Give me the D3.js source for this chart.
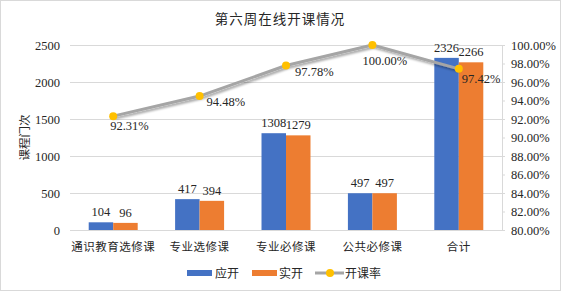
<!DOCTYPE html>
<html>
<head>
<meta charset="utf-8">
<script src="https://cdn.jsdelivr.net/npm/d3@7"></script>
<style>
  body { margin: 0; background: #fff; }
  svg { display: block; }
</style>
</head>
<body>
<svg id="chart" width="564" height="292"></svg>
<script>
// chart data
const categories = ["通识教育选修课", "专业选修课", "专业必修课", "公共必修课", "合计"];
const planned = [104, 417, 1308, 497, 2326];   // 应开
const actual = [96, 394, 1279, 497, 2266];     // 实开
const rate = [92.31, 94.48, 97.78, 100.00, 97.42]; // 开课率 %
const leftTicks = [0, 500, 1000, 1500, 2000, 2500];
const rightTicks = [80, 82, 84, 86, 88, 90, 92, 94, 96, 98, 100];

const svg = d3.select("#chart");
const cnFont = "'Noto Sans CJK SC', sans-serif";
const numFont = "'Liberation Serif', 'Times New Roman', serif";

const pLeft = 70, pRight = 502, pTop = 45, pBottom = 230;

// outer border
svg.append("rect")
  .attr("x", 0.5).attr("y", 0.5)
  .attr("width", 560).attr("height", 290)
  .attr("fill", "#fff")
  .attr("stroke", "#D9D9D9");

// shadow for the line
const defs = svg.append("defs");
const f = defs.append("filter").attr("id", "shadow")
  .attr("x", "-10%").attr("y", "-30%").attr("width", "120%").attr("height", "160%");
f.append("feDropShadow")
  .attr("dx", 1.5).attr("dy", 2).attr("stdDeviation", 1.2)
  .attr("flood-color", "#000").attr("flood-opacity", 0.35);

let x0 = d3.scaleBand()
  .domain(categories)
  .range([pLeft, pRight])
  .paddingInner(0.433)
  .paddingOuter(0.2165);

let x1 = d3.scaleBand()
  .domain(["应开", "实开"])
  .range([0, x0.bandwidth()]);

let y = d3.scaleLinear().domain([0, 2500]).range([pBottom, pTop]);
let yr = d3.scaleLinear().domain([80, 100]).range([pBottom, pTop]);

// gridlines
svg.append("g")
  .selectAll("line")
  .data(leftTicks)
  .enter()
  .append("line")
  .attr("x1", pLeft).attr("x2", pRight)
  .attr("y1", d => y(d)).attr("y2", d => y(d))
  .attr("stroke", "#D9D9D9")
  .attr("stroke-width", 1)
  .attr("shape-rendering", "crispEdges");

// left axis labels
let axL = svg.append("g")
  .attr("transform", "translate(" + pLeft + ",0)")
  .call(d3.axisLeft(y).tickValues(leftTicks).tickSize(0).tickPadding(10)
    .tickFormat(d3.format("d")));
axL.select(".domain").remove();
axL.selectAll("text")
  .style("font-family", numFont)
  .style("font-size", "12.5px")
  .style("fill", "#262626");

// right axis
let axR = svg.append("g")
  .attr("transform", "translate(" + pRight + ",0)")
  .call(d3.axisRight(yr).tickValues(rightTicks).tickSize(3).tickPadding(6)
    .tickFormat(d => d.toFixed(2) + "%"));
axR.select(".domain").attr("stroke", "#D9D9D9").attr("d", "M0.5," + pTop + "V" + pBottom);
axR.selectAll("line").attr("stroke", "#D9D9D9");
axR.selectAll("text")
  .style("font-family", numFont)
  .style("font-size", "12.5px")
  .style("fill", "#262626");

// category labels
svg.append("g")
  .selectAll("text")
  .data(categories)
  .enter()
  .append("text")
  .attr("x", d => x0(d) + x0.bandwidth() / 2)
  .attr("y", 251)
  .attr("text-anchor", "middle")
  .style("font-family", cnFont)
  .style("font-size", "11.5px")
  .style("letter-spacing", "0.5px")
  .style("fill", "#262626")
  .text(d => d);

// bars
const series = [
  { name: "应开", values: planned, color: "#4472C4" },
  { name: "实开", values: actual, color: "#ED7D31" }
];

series.forEach(function(s) {
  let g = svg.append("g");
  g.selectAll("rect")
    .data(s.values)
    .enter()
    .append("rect")
    .attr("x", (d, i) => x0(categories[i]) + x1(s.name))
    .attr("y", d => y(d))
    .attr("width", x1.bandwidth())
    .attr("height", d => pBottom - y(d))
    .attr("fill", s.color);
  g.selectAll("text")
    .data(s.values)
    .enter()
    .append("text")
    .attr("x", (d, i) => x0(categories[i]) + x1(s.name) + x1.bandwidth() / 2)
    .attr("y", d => y(d) - 6)
    .attr("text-anchor", "middle")
    .style("font-family", numFont)
    .style("font-size", "12.5px")
    .style("fill", "#262626")
    .text(d => d);
});

// bottom axis line
svg.append("line")
  .attr("x1", pLeft).attr("x2", pRight)
  .attr("y1", pBottom + 0.5).attr("y2", pBottom + 0.5)
  .attr("stroke", "#D9D9D9");

// rate line
let cx = (d, i) => x0(categories[i]) + x0.bandwidth() / 2;
let line = d3.line()
  .x(cx)
  .y(d => yr(d));

svg.append("path")
  .datum(rate)
  .attr("d", line)
  .attr("fill", "none")
  .attr("stroke", "#A5A5A5")
  .attr("stroke-width", 3)
  .attr("stroke-linejoin", "round")
  .attr("filter", "url(#shadow)");

svg.append("g")
  .selectAll("circle")
  .data(rate)
  .enter()
  .append("circle")
  .attr("cx", cx)
  .attr("cy", d => yr(d))
  .attr("r", 4)
  .attr("fill", "#FFC000");

// rate labels, offsets around each point
const labelDx = [-3, 7, 9, -10, 3];
const labelDy = [14, 10, 10, 20, 14];
svg.append("g")
  .selectAll("text")
  .data(rate)
  .enter()
  .append("text")
  .attr("x", (d, i) => cx(d, i) + labelDx[i])
  .attr("y", (d, i) => yr(d) + labelDy[i])
  .style("font-family", numFont)
  .style("font-size", "12.5px")
  .style("fill", "#262626")
  .text(d => d.toFixed(2) + "%");

// title
svg.append("text")
  .attr("x", 280)
  .attr("y", 24)
  .attr("text-anchor", "middle")
  .style("font-family", cnFont)
  .style("font-size", "13.5px")
  .style("letter-spacing", "1px")
  .style("fill", "#262626")
  .text("第六周在线开课情况");

// y axis title
svg.append("text")
  .attr("transform", "translate(29," + ((pTop + pBottom) / 2) + ") rotate(-90)")
  .attr("text-anchor", "middle")
  .style("font-family", cnFont)
  .style("font-size", "11.5px")
  .style("fill", "#262626")
  .text("课程门次");

// legend
let legend = svg.append("g");
legend.append("rect").attr("x", 187).attr("y", 270).attr("width", 25).attr("height", 6).attr("fill", "#4472C4");
legend.append("text").attr("x", 215).attr("y", 277.5)
  .style("font-family", cnFont).style("font-size", "12px").style("fill", "#262626").text("应开");
legend.append("rect").attr("x", 252).attr("y", 270).attr("width", 25).attr("height", 6).attr("fill", "#ED7D31");
legend.append("text").attr("x", 279).attr("y", 277.5)
  .style("font-family", cnFont).style("font-size", "12px").style("fill", "#262626").text("实开");
legend.append("line").attr("x1", 315).attr("x2", 344).attr("y1", 273).attr("y2", 273)
  .attr("stroke", "#A5A5A5").attr("stroke-width", 3);
legend.append("circle").attr("cx", 330).attr("cy", 273).attr("r", 4).attr("fill", "#FFC000");
legend.append("text").attr("x", 345).attr("y", 277.5)
  .style("font-family", cnFont).style("font-size", "12px").style("fill", "#262626").text("开课率");
</script>
</body>
</html>
